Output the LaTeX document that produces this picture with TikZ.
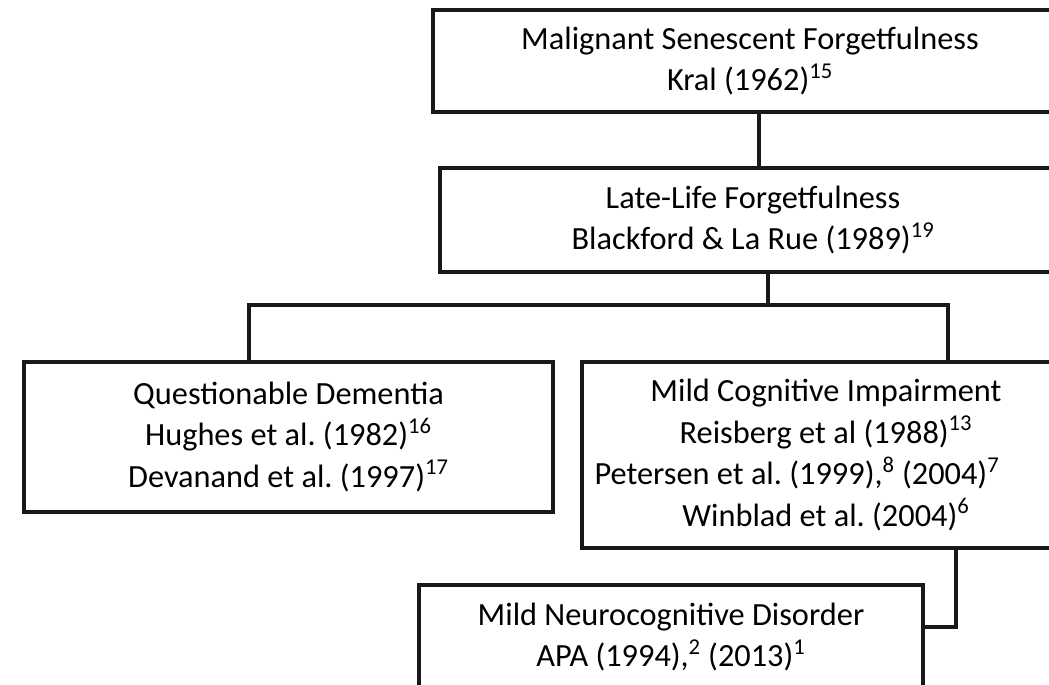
\documentclass[tikz,border=0pt]{standalone}
\usepackage{fontspec}
\setmainfont{Carlito}
\usetikzlibrary{calc}
\frenchspacing

\begin{document}
\begin{tikzpicture}[x=0.025cm,y=-0.025cm,
    box/.style={draw=black!90,line width=2.5pt,fill=white,align=center,inner sep=0pt,
      font=\fontsize{23}{29.5}\selectfont},
    link/.style={draw=black!90,line width=2.5pt}]
      \clip (0,0) rectangle (1049,684);
      \fill[white] (0,0) rectangle (1049,684);
      \node[box,minimum width=15.85cm,minimum height=2.55cm] (msf) at (750,61)
        {Malignant Senescent Forgetfulness\\Kral (1962)\textsuperscript{15}};
      \node[box,minimum width=15.65cm,minimum height=2.6cm] (llf) at (753,220)
        {Late-Life Forgetfulness\\Blackford \& La Rue (1989)\textsuperscript{19}};
      \node[box,minimum width=13.225cm,minimum height=3.75cm] (qd) at (288.5,437)
        {Questionable Dementia\\Hughes et al. (1982)\textsuperscript{16}\\Devanand et al. (1997)\textsuperscript{17}};
      \node[box,minimum width=12.2cm,minimum height=4.65cm] (mci) at (826,455)
        {Mild Cognitive Impairment\\Reisberg et al (1988)\textsuperscript{13}\\
         \mbox{Petersen et al. (1999),\textsuperscript{8} (2004)\textsuperscript{7}\hspace{1.45cm}}\\
         Winblad et al. (2004)\textsuperscript{6}};
      \node[box,minimum width=12.6cm,minimum height=2.6cm] (mncd) at (671,637)
        {Mild Neurocognitive Disorder\\APA (1994),\textsuperscript{2} (2013)\textsuperscript{1}};
      \coordinate (j1) at (759,140);
      \coordinate (j2) at (768,305);
      \coordinate (jl) at (249,305);
      \coordinate (jr) at (948,305);
      \coordinate (j3) at (956,627);
      \draw [link] (msf.south -| j1) -- (llf.north -| j1);
      \draw [link] (llf.south -| j2) -- (j2);
      \draw [link] (qd.north -| jl) -- (jl) -- (jr) -- (mci.north -| jr);
      \draw [link] (mci.south -| j3) -- (j3) -- (j3 -| mncd.east);
\end{tikzpicture}
\end{document}
